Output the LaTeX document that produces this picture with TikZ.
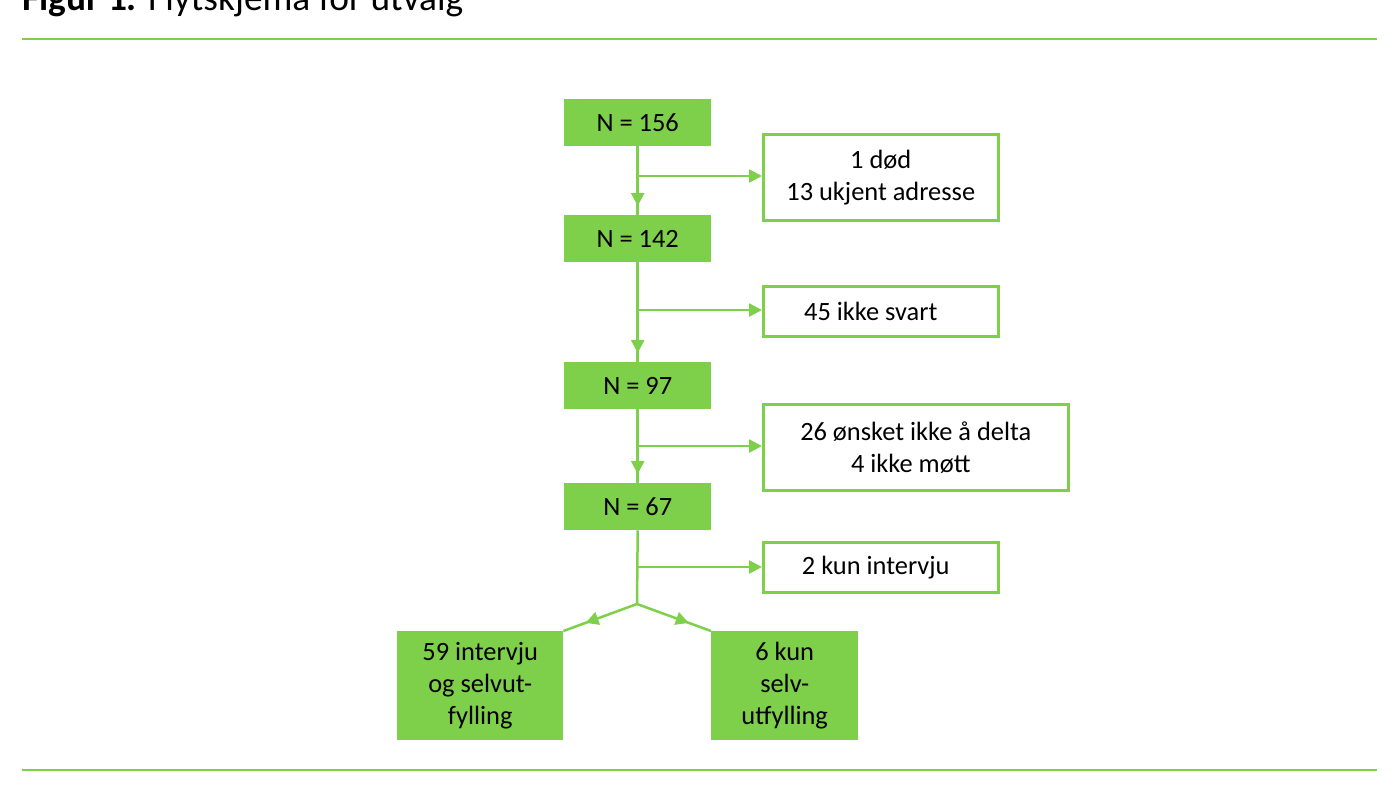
\documentclass[tikz,border=0pt]{standalone}
\usepackage{fontspec}
\setmainfont{Carlito}
\usetikzlibrary{arrows.meta,decorations.markings}
\definecolor{gr}{HTML}{7ECF4A}
\begin{document}
\begin{tikzpicture}[x=1bp,y=-1bp,
  fbox/.style={fill=gr,draw=none,font=\fontsize{26.5}{32}\selectfont,align=center,anchor=north west,inner sep=0},
  wbox/.style={draw=gr,line width=2.5bp,fill=white,font=\fontsize{26.5}{32}\selectfont,align=center,anchor=north west,inner sep=0},
  ln/.style={draw=gr,line width=2.5bp},
  tip/.style={-{Triangle[length=13bp,width=13bp]}},
  midtip/.style={postaction={decorate},decoration={markings,mark=at position 0.7 with {\arrow{Triangle[length=13bp,width=13bp]}}}}]
\useasboundingbox (0,0) rectangle (1400,786);
\node[anchor=base west,font=\fontsize{37.5}{40}\selectfont,inner sep=0] (title) at (22,11) {\textbf{Figur 1.} Flytskjema for utvalg};
\draw[ln] (22,39) -- (1377,39);
\draw[ln] (22,770) -- (1377,770);
\node[fbox,minimum width=147bp,minimum height=47bp] (a) at (564,99) {N = 156};
\node[fbox,minimum width=147bp,minimum height=47bp] (b) at (564,215) {N = 142};
\node[fbox,minimum width=147bp,minimum height=47bp] (c) at (564,362) {N = 97};
\node[fbox,minimum width=147bp,minimum height=47bp] (d) at (564,483) {N = 67};
\node[fbox,minimum width=166bp,minimum height=109bp] (e) at (397,631) {59 intervju\\og selvut-\\fylling};
\node[fbox,minimum width=147bp,minimum height=109bp] (f) at (711,631) {6 kun\\selv-\\utfylling};
\node[wbox,minimum width=235bp,minimum height=86bp] (w1) at (762,133) {1 død\\13 ukjent adresse};
\node[wbox,minimum width=235bp,minimum height=50bp] (w2) at (762,285) {45 ikke svart\hspace*{20bp}};
\node[wbox,minimum width=305bp,minimum height=86bp] (w3) at (762,403) {26 ønsket ikke å delta\\4 ikke møtt\hspace*{10bp}};
\node[wbox,minimum width=235bp,minimum height=50bp] (w4) at (762,541) {2 kun intervju\hspace*{10bp}};
\coordinate (s) at (637,604);
\foreach \u/\v/\y/\w in {a/b/176/w1,b/c/310/w2,c/d/446/w3}{
  \draw[ln] (\u.south) -- (\v.north);
  \draw[ln,tip] (\u.south) -- ([yshift=9bp]\v.north);
  \draw[ln,tip] (637,\y) -- (\w.west |- 0,\y);
}
\draw[ln] (d.south) -- (s);
\draw[ln,tip] (637,567) -- (w4.west |- 0,567);
\draw[ln,midtip] (s) -- (e.north east);
\draw[ln,midtip] (s) -- (f.north west);
\end{tikzpicture}
\end{document}
